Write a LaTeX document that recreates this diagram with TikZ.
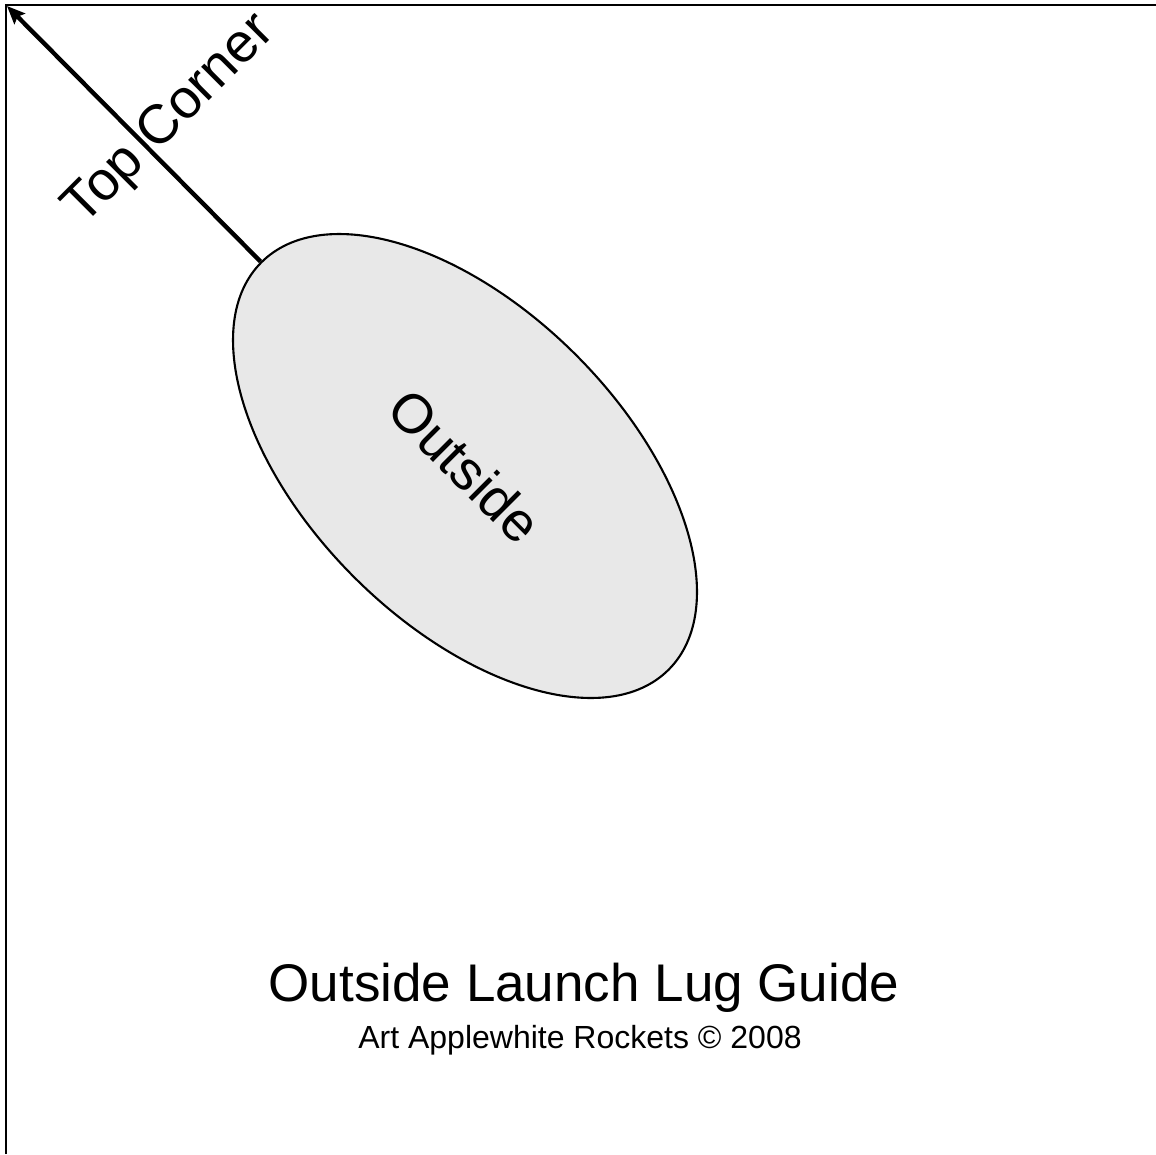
\documentclass[tikz,border=0pt]{standalone}
\usepackage{fontspec}
\setmainfont{Liberation Sans}
\usetikzlibrary{shapes.geometric,arrows.meta}
\definecolor{lugfill}{HTML}{E8E8E8}

\begin{document}
\begin{tikzpicture}[x=1pt, y=-1pt, >={Stealth[length=18pt,width=15pt,inset=3pt]}]
        % Define styles
        \tikzstyle{lug}=[ellipse,draw=black,line width=2.1pt,fill=lugfill,minimum width=576pt,minimum height=314pt,inner sep=0pt,font=\fontsize{55}{60}\selectfont]
        \tikzstyle{cornertext}=[font=\fontsize{55}{60}\selectfont,anchor=base]

        \useasboundingbox (0,0) rectangle (1156,1154);

        % Page edges
        \draw [line width=2.6pt] (6,1154) -- (6,5) -- (1156,5);

        % Lug outline and the corner it points to
        \coordinate (corner) at (7,6);
        \node [lug, rotate=-45] (lug) at (465,466) {Outside};
        \draw [->, line width=4.4pt] (lug.west) -- (corner);

        % Annotate corner arrow
        \node [cornertext, rotate=45] (toptext) at (180,130) {Top Corner};

        % Title block
        \node [font=\fontsize{53}{60}\selectfont, anchor=base] (title) at (584,1001) {Outside Launch Lug Guide};
        \node [font=\fontsize{32}{36}\selectfont, anchor=base] (credit) at (580,1048) {Art Applewhite Rockets © 2008};
    \end{tikzpicture}
\end{document}
